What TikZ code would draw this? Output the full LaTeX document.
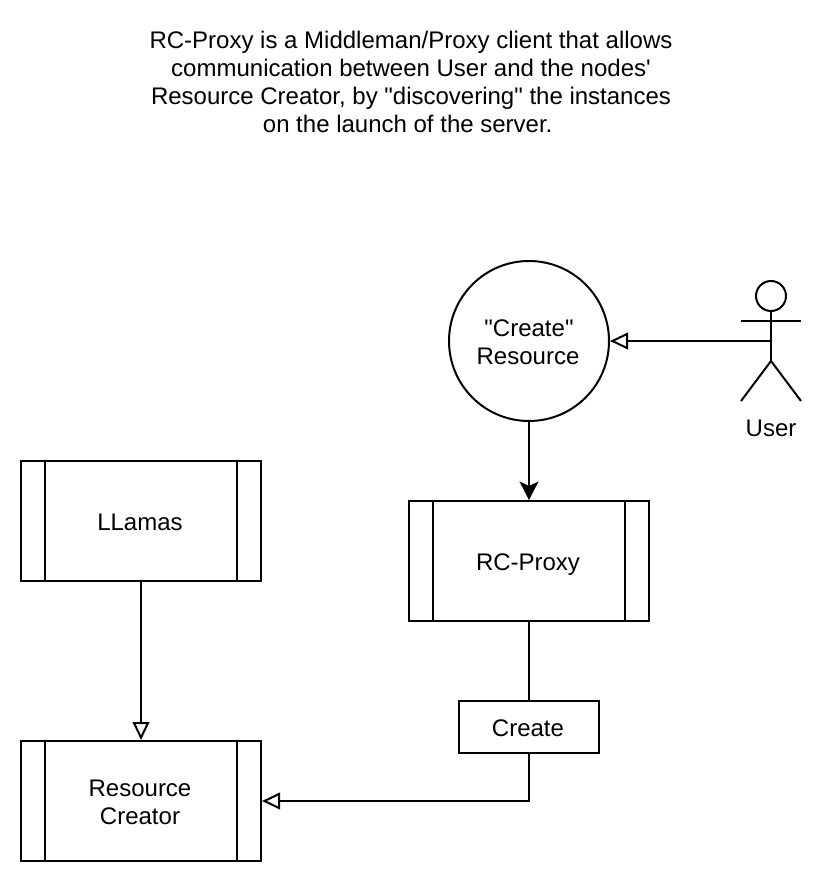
\documentclass[tikz,border=0pt]{standalone}
\usepackage{fontspec}
\newfontfamily\plainsans{Liberation Sans}
\usetikzlibrary{arrows.meta}
\tikzset{
  x=0.75pt,y=-0.75pt,
  every path/.style={line width=1.5pt},
  label text/.style={font=\plainsans\fontsize{18}{21}\selectfont,align=center,inner sep=0pt},
  single text/.style={font=\plainsans\fontsize{18}{21}\selectfont,inner sep=0pt,anchor=base},
  procbox/.style={draw,minimum width=180pt,minimum height=90pt,inner sep=0pt,line width=1.5pt},
  openarrow/.style={draw,line width=1.5pt,-{Triangle[open,fill=white,length=13.5pt,width=12.5pt,line width=1.5pt]}},
  solidarrow/.style={draw,line width=1.5pt,-{Stealth[length=14pt,width=14.5pt,inset=3.5pt,line width=0pt]}},
  limb/.style={draw,line width=1.5pt},
}
\begin{document}
\begin{tikzpicture}
\useasboundingbox (0,0) rectangle (822,884);
\node[label text] (desc) at (411,82) {RC-Proxy is a Middleman/Proxy client that allows\\communication between User and the nodes'\\Resource Creator, by "discovering" the instances\\on the launch of the server.\hspace*{5pt}};
\node[draw,circle,minimum size=120pt,inner sep=0pt,line width=1.5pt] (create) at (529,341) {};
\node[label text] (createlabel) at (528,342) {\hspace*{1.5pt}"Create"\\Resource};

\node[procbox] (proxy) at (529,561) {};
\node[single text] (proxytext) at (528,570) {RC-Proxy};
\draw ([xshift=18.75pt]proxy.north west) -- ([xshift=18.75pt]proxy.south west);
\draw ([xshift=-18.75pt]proxy.north east) -- ([xshift=-18.75pt]proxy.south east);

\node[procbox] (llamas) at (141,521) {};
\node[single text] (llamastext) at (140,530) {LLamas};
\draw ([xshift=18.75pt]llamas.north west) -- ([xshift=18.75pt]llamas.south west);
\draw ([xshift=-18.75pt]llamas.north east) -- ([xshift=-18.75pt]llamas.south east);

\node[procbox] (rc) at (141,801) {};
\node[label text] (rctext) at (140,802) {Resource\\Creator};
\draw ([xshift=18.75pt]rc.north west) -- ([xshift=18.75pt]rc.south west);
\draw ([xshift=-18.75pt]rc.north east) -- ([xshift=-18.75pt]rc.south east);

\node[draw,minimum width=105pt,minimum height=39pt,inner sep=0pt,line width=1.5pt] (createbox) at (529,727) {};
\node[single text] (createtext) at (528,736) {Create};

% stick figure
\node[draw,circle,minimum size=22.5pt,inner sep=0pt,line width=1.5pt] (head) at (771,296) {};
\coordinate (hip) at (771,361);
\coordinate (shoulder) at (771,321);
\coordinate (armL) at (741,321);
\coordinate (armR) at (801,321);
\coordinate (footL) at (741,401);
\coordinate (footR) at (801,401);
\coordinate (armmid) at (771,341);
\draw[limb] (head.south) -- (hip);
\draw[limb] (armL) -- (armR);
\draw[limb] (footL) -- (hip) -- (footR);
\node[single text] (user) at (771,436) {User};

\draw[openarrow] (armmid) -- (create.east);
\draw[solidarrow] (create.south) -- (proxy.north);
\draw[limb] (proxy.south) -- (createbox.north);
\draw[openarrow] (llamas.south) -- (rc.north);
\draw[openarrow] (createbox.south) |- (rc.east);
\end{tikzpicture}
\end{document}
